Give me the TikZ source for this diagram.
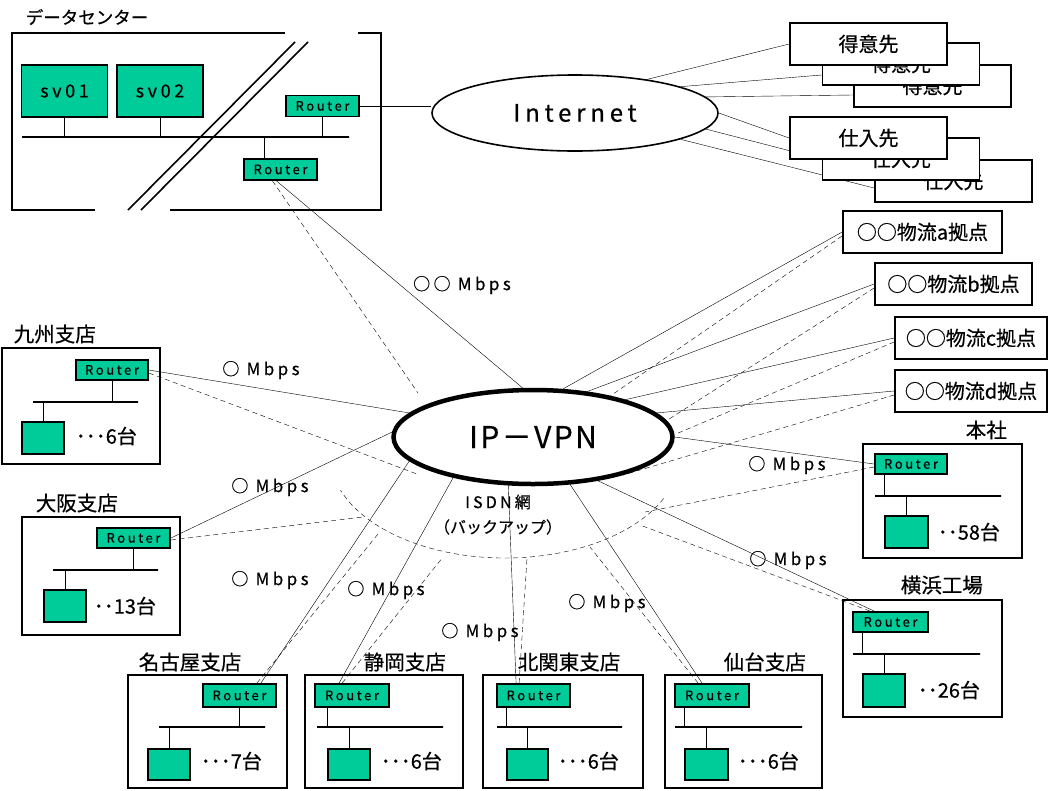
\documentclass[tikz,border=0pt]{standalone}
\usepackage{fontspec}
\setmainfont{Noto Sans CJK JP}[FakeBold=0.5]
\newfontfamily\spacedfont[LetterSpace=20,FakeBold=0.5]{Noto Sans CJK JP}
\usetikzlibrary{shapes.geometric}
\definecolor{pcgreen}{RGB}{0,204,153}
\pgfdeclarelayer{back}
\pgfsetlayers{back,main}

\begin{document}
\begin{tikzpicture}[x=1pt,y=-1pt,line width=1.6pt,
    every node/.style={inner sep=0pt},
    edgebox/.style={draw,line width=1.8pt},
    router/.style={edgebox,fill=pcgreen,minimum width=73pt,minimum height=21pt,font=\spacedfont\fontsize{13}{13}\selectfont},
    pc/.style={edgebox,fill=pcgreen,minimum width=42pt,minimum height=32pt},
    server/.style={edgebox,fill=pcgreen,minimum width=86pt,minimum height=52pt,font=\spacedfont\fontsize{18}{18}\selectfont},
    bus/.style={draw,line width=1.8pt,minimum height=0pt},
    sitebox/.style={edgebox},
    sitename/.style={anchor=west,font=\fontsize{20.5}{21}\selectfont},
    units/.style={anchor=west,font=\fontsize{20}{20}\selectfont},
    partner/.style={edgebox,fill=white,minimum width=157pt,minimum height=42pt,font=\fontsize{20}{20}\selectfont},
    depot/.style={edgebox,minimum height=42pt,font=\fontsize{20}{20}\selectfont},
    speed/.style={font=\spacedfont\fontsize{17}{17}\selectfont},
    backup/.style={dash pattern=on 5pt off 3.5pt}]
\useasboundingbox (0,0) rectangle (1051,790);

\node[anchor=west,font=\fontsize{17.5}{18}\selectfont] (dc-name) at (25,17) {データセンター};
\draw[line width=1.8pt] (285,33) -- (12,33) -- (12,210) -- (95,210);
\draw[line width=1.8pt] (358,33) -- (381,33) -- (381,210) -- (170,210);
\draw (295,42) -- (128,210);
\draw (308,42) -- (141,210);
\node[server] (sv1) at (64.5,91) {sv01};
\node[server] (sv2) at (160,91) {sv02};
\node[bus,minimum width=327pt] (dc-bus) at (185.5,137) {};
\node[router] (dcr1) at (322.5,106) {Router};
\node[router] (dcr2) at (280.5,169.5) {Router};

\node[draw,ellipse,fill=white,minimum width=286pt,minimum height=76pt,font=\spacedfont\fontsize{24}{24}\selectfont] (inet) at (575,113) {Internet};

\node[partner] (tk3) at (932.5,86) {得意先};
\node[partner] (tk2) at (901,64) {得意先};
\node[partner] (tk1) at (868.5,44) {得意先};
\node[partner] (si3) at (953.5,181) {仕入先};
\node[partner] (si2) at (901,159) {仕入先};
\node[partner] (si1) at (868.5,138) {仕入先};

\node[depot,minimum width=159pt] (la) at (922.5,232) {○○物流a拠点};
\node[depot,minimum width=157pt] (lb) at (953.5,284) {○○物流b拠点};
\node[depot,minimum width=152pt] (lc) at (971,338) {○○物流c拠点};
\node[depot,minimum width=152pt] (ld) at (971,391) {○○物流d拠点};

\node[draw,ellipse,line width=4.5pt,fill=white,minimum width=279pt,minimum height=94pt,font=\addfontfeatures{LetterSpace=8}\fontsize{30}{30}\selectfont] (vpn) at (533,437) {IP－VPN};
\node[font=\spacedfont\fontsize{16}{16}\selectfont] (isdn-name) at (498,502) {ISDN網};
\node[font=\fontsize{16}{16}\selectfont] (isdn-note) at (498,527) {（バックアップ）};
\coordinate (isdn) at (505,455);

\node[sitebox,minimum width=158pt,minimum height=116pt] (ks) at (81,406) {};
\node[sitename] (ks-name) at (13,334) {九州支店};
\node[router,minimum width=72pt,minimum height=20pt] (ks-r) at (112,370) {Router};
\node[bus,minimum width=105pt] (ks-bus) at (85.5,402) {};
\node[pc] (ks-t) at (43,438) {};
\node[units] (ks-n) at (75,436) {･･･6台};

\node[sitebox,minimum width=158pt,minimum height=118pt] (os) at (101,576) {};
\node[sitename] (os-name) at (35,503) {大阪支店};
\node[router,minimum height=20pt] (os-r) at (133.5,538) {Router};
\node[bus,minimum width=105pt] (os-bus) at (105.5,570) {};
\node[pc] (os-t) at (65,606) {};
\node[units] (os-n) at (93,606) {･･13台};

\node[sitebox,minimum width=159pt,minimum height=113pt] (ng) at (207.5,731.5) {};
\node[sitename] (ng-name) at (138,662) {名古屋支店};
\node[router,minimum height=23pt] (ng-r) at (239.5,695.5) {Router};
\node[bus,minimum width=106pt] (ng-bus) at (212,727) {};
\node[pc,minimum height=31pt] (ng-t) at (169,764.5) {};
\node[units] (ng-n) at (200,761) {･･･7台};

\node[sitebox,minimum width=158pt,minimum height=113pt] (sz) at (384,731.5) {};
\node[sitename] (sz-name) at (363,662) {静岡支店};
\node[router,minimum width=74pt,minimum height=23pt] (sz-r) at (352,695.5) {Router};
\node[bus,minimum width=126pt] (sz-bus) at (380,727) {};
\node[pc,minimum height=31pt] (sz-t) at (349,764.5) {};
\node[units] (sz-n) at (380,761) {･･･6台};

\node[sitebox,minimum width=160pt,minimum height=113pt] (kk) at (563,731.5) {};
\node[sitename] (kk-name) at (517,662) {北関東支店};
\node[router,minimum height=23pt] (kk-r) at (533.5,695.5) {Router};
\node[bus,minimum width=125pt] (kk-bus) at (559.5,727) {};
\node[pc,minimum width=41pt,minimum height=31pt] (kk-t) at (527.5,764.5) {};
\node[units] (kk-n) at (557,761) {･･･6台};

\node[sitebox,minimum width=157pt,minimum height=113pt] (sd) at (743.5,731.5) {};
\node[sitename] (sd-name) at (723,662) {仙台支店};
\node[router,minimum width=74pt,minimum height=23pt] (sd-r) at (712,695.5) {Router};
\node[bus,minimum width=127pt] (sd-bus) at (738.5,727) {};
\node[pc,minimum width=43pt,minimum height=31pt] (sd-t) at (706.5,764.5) {};
\node[units] (sd-n) at (737,761) {･･･6台};

\node[sitebox,minimum width=159pt,minimum height=117pt] (yk) at (922.5,658.5) {};
\node[sitename] (yk-name) at (900,585) {横浜工場};
\node[router,minimum width=75pt,minimum height=20pt] (yk-r) at (890.5,622) {Router};
\node[bus,minimum width=127pt] (yk-bus) at (916.5,654) {};
\node[pc,minimum height=33pt] (yk-t) at (884,690.5) {};
\node[units] (yk-n) at (917,690) {･･26台};

\node[sitebox,minimum width=159pt,minimum height=114pt] (hq) at (942.5,501) {};
\node[sitename] (hq-name) at (965,430) {本社};
\node[router,minimum width=72pt,minimum height=20pt] (hq-r) at (911,464) {Router};
\node[bus,minimum width=126pt] (hq-bus) at (938,496) {};
\node[pc,minimum width=43pt] (hq-t) at (906.5,532) {};
\node[units] (hq-n) at (937,532) {･･58台};

\node[speed] (m-dc) at (462,285) {○○ Mbps};
\node[speed] (m-ks) at (261,370) {○ Mbps};
\node[speed] (m-os) at (270,487) {○ Mbps};
\node[speed] (m-ng) at (270,580) {○ Mbps};
\node[speed] (m-sz) at (386,590) {○ Mbps};
\node[speed] (m-kk) at (480,632) {○ Mbps};
\node[speed] (m-sd) at (607,603) {○ Mbps};
\node[speed] (m-yk) at (788,560) {○ Mbps};
\node[speed] (m-hq) at (787,465) {○ Mbps};

\coordinate (i-dc) at (418,393);
\coordinate (i-ks) at (417,474);
\coordinate (i-os) at (363,517);
\coordinate (i-ng) at (378,534);
\coordinate (i-sz) at (443,557);
\coordinate (i-kk) at (527,558);
\coordinate (i-sd) at (590,547);
\coordinate (i-yk) at (640,525);
\coordinate (i-hq) at (645,512);

\begin{pgfonlayer}{back}
\draw (sv1) -- (sv1 |- dc-bus);
\draw (sv2) -- (sv2 |- dc-bus);
\draw (dcr1) -- (dcr1 |- dc-bus);
\draw (dcr2.north) ++(-16,0) -- ++(0,-22);
\draw (ks-r) -- (ks-r |- ks-bus);
\draw (ks-t) -- (ks-t |- ks-bus);
\draw (os-r) -- (os-r |- os-bus);
\draw (os-t) -- (os-t |- os-bus);
\draw (ng-r) -- (ng-r |- ng-bus);
\draw (ng-t) -- (ng-t |- ng-bus);
\draw (sz-r.south west) ++(13,0) -- ++(0,20);
\draw (sz-t) -- (sz-t |- sz-bus);
\draw (kk-r.south west) ++(10,0) -- ++(0,20);
\draw (kk-t) -- (kk-t |- kk-bus);
\draw (sd-r.south west) ++(10,0) -- ++(0,20);
\draw (sd-t) -- (sd-t |- sd-bus);
\draw (yk-r.south west) ++(10,0) -- ++(0,22);
\draw (yk-t) -- (yk-t |- yk-bus);
\draw (hq-r.south west) ++(10,0) -- ++(0,22);
\draw (hq-t) -- (hq-t |- hq-bus);

\draw (dcr1.east) -- (inet.west |- dcr1.east);
\draw (inet.25) -- (tk1.west);
\draw (inet.14) -- ([yshift=-11pt]tk2.west);
\draw (inet.7) -- ([yshift=-9pt]tk3.west);
\draw (inet.0) -- (si1.west);
\draw (inet.-7) -- (si2.west);
\draw (inet.-14) -- ([yshift=-7pt]si3.west);

\draw ([xshift=-4pt]dcr2.south) -- (vpn.102);
\draw (ks-r.east) -- (vpn.169);
\draw (os-r.east) -- (vpn.178);
\draw ([xshift=-16pt]ng-r.north east) -- (vpn.191);
\draw ([xshift=25pt]sz-r.north west) -- (vpn.207);
\draw ([xshift=20pt]kk-r.north west) -- (vpn.243);
\draw ([xshift=28pt]sd-r.north west) -- (vpn.308);
\draw ([xshift=22pt]yk-r.north west) -- (vpn.326);
\draw (hq-r.west) -- (vpn.0);
\draw (la.west) -- (vpn.58);
\draw (lb.west) -- (vpn.40);
\draw (lc.west) -- (vpn.22);
\draw (ld.west) -- (vpn.11);

\draw[backup] ([xshift=-8pt]dcr2.south) -- (i-dc);
\draw[backup] ([yshift=-3pt]ks-r.east) -- (i-ks);
\draw[backup] ([yshift=-2pt]os-r.east) -- (i-os);
\draw[backup] ([xshift=-20pt]ng-r.north east) -- (i-ng);
\draw[backup] ([xshift=28pt]sz-r.north west) -- (i-sz);
\draw[backup] ([xshift=23pt]kk-r.north west) -- (i-kk);
\draw[backup] ([xshift=24pt]sd-r.north west) -- (i-sd);
\draw[backup] ([xshift=18pt]yk-r.north west) -- (i-yk);
\draw[backup] ([yshift=-3pt]hq-r.west) -- (i-hq);
\draw[backup] ([yshift=-4pt]la.west) -- (vpn.28);
\draw[backup] ([yshift=-4pt]lb.west) -- (vpn.7);
\draw[backup] ([yshift=-4pt]lc.west) -- (vpn.1);
\draw[backup] ([yshift=-4pt]ld.west) -- (vpn.337);
\draw[backup] (isdn) ++(25:175 and 103) arc[start angle=25,end angle=160,x radius=175,y radius=103];
\end{pgfonlayer}
\end{tikzpicture}
\end{document}
